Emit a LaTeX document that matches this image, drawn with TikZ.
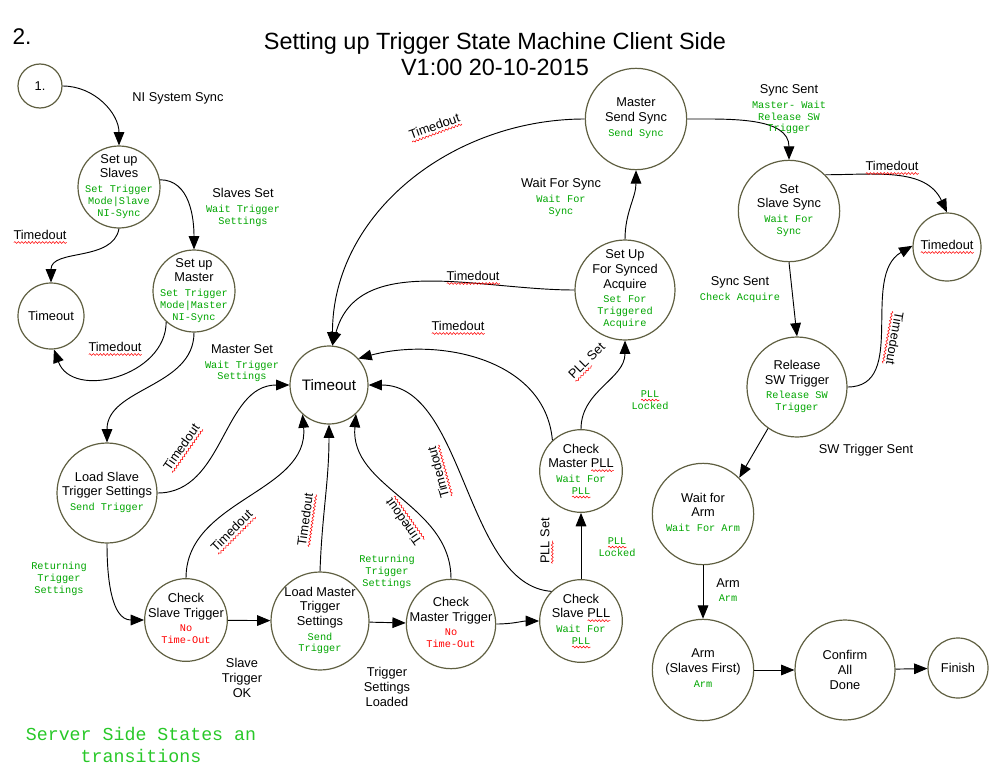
\documentclass[tikz,border=0pt]{standalone}
\usepackage{fontspec}
\setmainfont{Liberation Sans}
\setmonofont{Liberation Mono}
\usetikzlibrary{arrows.meta, positioning, calc, decorations.pathmorphing}

\definecolor{rim}{RGB}{95,95,65}
\definecolor{grn}{RGB}{0,165,0}
\definecolor{lgrn}{RGB}{40,200,40}

% red wavy underline, as the spell checker shows it
\newdimen\wvlen
\newcommand{\wv}[1]{\setbox0=\hbox{#1}\wvlen=\wd0\leavevmode\rlap{\tikz[baseline=0pt]\draw[red, line width=0.4pt, decorate, decoration={snake, amplitude=0.7pt, segment length=2.6pt}] (0pt,-2.2pt) -- (\the\wvlen,-2.2pt);}\box0}
\newcommand{\gr}[1]{{\ttfamily\fontsize{7.7}{8.8}\selectfont\color{grn}\begin{tabular}[t]{@{}c@{}}#1\end{tabular}}}
\newcommand{\rd}[1]{{\ttfamily\fontsize{7.7}{8.8}\selectfont\color{red}\begin{tabular}[t]{@{}c@{}}#1\end{tabular}}}

\begin{document}
\begin{tikzpicture}[x=0.75pt, y=-0.75pt]
        \tikzstyle{state} = [circle, draw=rim, line width=0.9pt, inner sep=-8pt, align=center, font=\fontsize{9.6}{11}\selectfont]
        \tikzstyle{arrow} = [line width=0.7pt, -{Triangle[length=10pt,width=8pt]}]
        \tikzstyle{lbl} = [align=center, inner sep=0pt, font=\fontsize{9.6}{11}\selectfont]

        \useasboundingbox (0,0) rectangle (999,767);

        \node (two) [font=\fontsize{17}{20}\selectfont] at (22,37) {2.};
        \node (title) [align=center, font=\fontsize{17.6}{20}\selectfont] at (495,54) {Setting up Trigger State Machine Client Side\\V1:00 20-10-2015};

        % states
        \node (one) [state, minimum size=33pt] at (40,86) {1.};
        \node (slaves) [state, minimum size=61.5pt] at (119,187) {Set up\\Slaves\\\gr{Set Trigger\\Mode|Slave\\NI-Sync}};
        \node (timeoutA) [state, minimum size=49.5pt] at (51,316) {Timeout};
        \node (master) [state, minimum size=61.5pt] at (194,291) {Set up\\Master\\\gr{Set Trigger\\Mode|Master\\NI-Sync}};
        \node (loadslave) [state, minimum size=75pt] at (107,493) {Load Slave\\Trigger Settings\\\gr{Send Trigger}};
        \node (chkslave) [state, minimum size=62pt] at (186,620) {Check\\Slave Trigger\\\rd{No\\Time-Out}};
        \node (loadmaster) [state, minimum size=73.5pt] at (320,621) {Load Master\\Trigger\\Settings\\\gr{Send\\Trigger}};
        \node (chkmaster) [state, minimum size=67pt] at (451,624) {Check\\Master Trigger\\\rd{No\\Time-Out}};
        \node (chkslavepll) [state, minimum size=62pt] at (581,621) {Check\\Slave \wv{PLL}\\\gr{Wait For\\\wv{PLL}}};
        \node (chkmasterpll) [state, minimum size=62pt] at (581,471) {Check\\Master \wv{PLL}\\\gr{Wait For\\\wv{PLL}}};
        \node (setupsync) [state, minimum size=75pt] at (625,290) {Set Up\\For Synced\\Acquire\\\gr{Set For\\Triggered\\Acquire}};
        \node (mastersync) [state, minimum size=76pt] at (636,119) {Master\\Send Sync\\\gr{Send Sync}};
        \node (timeout) [state, minimum size=58.5pt, font=\fontsize{11.4}{13}\selectfont] at (329,385) {Timeout};
        \node (slavesync) [state, minimum size=76pt] at (789,211) {Set\\Slave Sync\\\gr{Wait For\\Sync}};
        \node (timedoutR) [state, minimum size=51pt] at (947,247) {\wv{Timedout}};
        \node (release) [state, minimum size=75pt] at (797,387) {Release\\SW Trigger\\\gr{Release SW\\Trigger}};
        \node (waitarm) [state, minimum size=76pt] at (703,514) {Wait for\\Arm\\\gr{Wait For Arm}};
        \node (arm) [state, minimum size=76pt] at (703,670) {Arm\\(Slaves First)\\\gr{Arm}};
        \node (confirm) [state, minimum size=75pt] at (845,670) {Confirm\\All\\Done};
        \node (finish) [state, minimum size=45pt] at (958,668) {Finish};

        % transitions
        \draw [arrow] (one.east) to[out=0,in=90] (slaves.north);
        \draw [arrow] (slaves.10) to[out=0,in=90] (master.north);
        \draw [arrow] (slaves.south) to[out=-100,in=90] (timeoutA.north);
        \draw [arrow] (master.228) to[out=-90,in=-70,looseness=1.2] (timeoutA.-85);
        \draw [arrow] (master.south) to[out=-90,in=90] (loadslave.north);
        \draw [arrow] (loadslave.east) to[out=0,in=180] (timeout.west);
        \draw [arrow] (loadslave.south) to[out=-90,in=180] (chkslave.west);
        \draw [arrow] (chkslave.north) to[out=90,in=-85] (timeout.228);
        \draw [arrow] (chkslave) -- (loadmaster);
        \draw [arrow] (loadmaster.north) to[out=88,in=-90] (timeout.south);
        \draw [arrow] (loadmaster) -- (chkmaster);
        \draw [arrow] (chkmaster.north) to[out=90,in=-95] (timeout.-47);
        \draw [arrow] (chkmaster.east) to[out=0,in=180] (chkslavepll.west);
        \draw [arrow] (chkslavepll.135) .. controls (465,585) and (465,385) .. (timeout.east);
        \draw [arrow] (chkslavepll) -- (chkmasterpll);
        \draw [arrow] (chkmasterpll.133) to[out=95,in=15] (timeout.42);
        \draw [arrow] (chkmasterpll.north) to[out=90,in=-90] (setupsync.south);
        \draw [arrow] (setupsync.west) to[out=180,in=75] (timeout.85);
        \draw [arrow] (setupsync.north) to[out=90,in=-90] (mastersync.south);
        \draw [arrow] (mastersync.west) to[out=180,in=90] (timeout.85);
        \draw [arrow] (mastersync.east) to[out=0,in=90] (slavesync.north);
        \draw [arrow] (slavesync.45) to[out=0,in=115] (timedoutR.north);
        \draw [arrow] (slavesync.south) -- (release.north);
        \draw [arrow] (release.east) to[out=0,in=-150] (timedoutR.178);
        \draw [arrow] (release.235) -- (waitarm.45);
        \draw [arrow] (waitarm) -- (arm);
        \draw [arrow] (arm) -- (confirm);
        \draw [arrow] (confirm) -- (finish);

        % labels
        \node (lbNI) [lbl] at (178,98) {NI System Sync};
        \node (lbSlavesSet) [lbl] at (243,208) {Slaves Set\\\gr{Wait Trigger\\Settings}};
        \node (lbTo1) [lbl] at (40,237) {\wv{Timedout}};
        \node (lbTo2) [lbl] at (115,349) {\wv{Timedout}};
        \node (lbMasterSet) [lbl] at (242,364) {Master Set\\\gr{Wait Trigger\\Settings}};
        \node (lbTo3) [lbl, rotate=55] at (183,448) {\wv{Timedout}};
        \node (lbRet1) [lbl] at (59,579) {\gr{Returning\\Trigger\\Settings}};
        \node (lbTo4) [lbl, rotate=45] at (233,532) {\wv{Timedout}};
        \node (lbSlaveOK) [lbl] at (242,678) {Slave\\Trigger\\OK};
        \node (lbTo5) [lbl, rotate=82] at (307,520) {\wv{Timedout}};
        \node (lbRet2) [lbl] at (387,572) {\gr{Returning\\Trigger\\Settings}};
        \node (lbTo6) [lbl, rotate=125] at (405,521) {\wv{Timedout}};
        \node (lbLoaded) [lbl] at (387,687) {Trigger\\Settings\\Loaded};
        \node (lbTo7) [lbl, rotate=105] at (440,472) {\wv{Timedout}};
        \node (lbPll1) [lbl, rotate=90] at (547,541) {\wv{PLL}\ Set};
        \node (lbLock1) [lbl] at (617,548) {\gr{\wv{PLL}\\Locked}};
        \node (lbTo8) [lbl] at (458,328) {\wv{Timedout}};
        \node (lbPll2) [lbl, rotate=45] at (588,362) {\wv{PLL}\ Set};
        \node (lbLock2) [lbl] at (650,401) {\gr{\wv{PLL}\\Locked}};
        \node (lbTo9) [lbl] at (473,278) {\wv{Timedout}};
        \node (lbWaitSync) [lbl] at (561,198) {Wait For Sync\\\gr{Wait For\\Sync}};
        \node (lbTo10) [lbl, rotate=20] at (435,128) {\wv{Timedout}};
        \node (lbSyncSent1) [lbl] at (789,110) {Sync Sent\\\gr{Master- Wait\\Release SW\\Trigger}};
        \node (lbTo11) [lbl] at (892,168) {\wv{Timedout}};
        \node (lbSyncSent2) [lbl] at (740,290) {Sync Sent\\\gr{Check Acquire}};
        \node (lbTo12) [lbl, rotate=-100] at (893,338) {\wv{Timedout}};
        \node (lbSWSent) [lbl] at (866,450) {SW Trigger Sent};
        \node (lbArm) [lbl] at (728,592) {Arm\\\gr{Arm}};

        \node (server) [align=center, font=\ttfamily\fontsize{13.7}{16}\selectfont, text=lgrn] at (141,745) {Server Side States an\\transitions};
    \end{tikzpicture}
\end{document}
